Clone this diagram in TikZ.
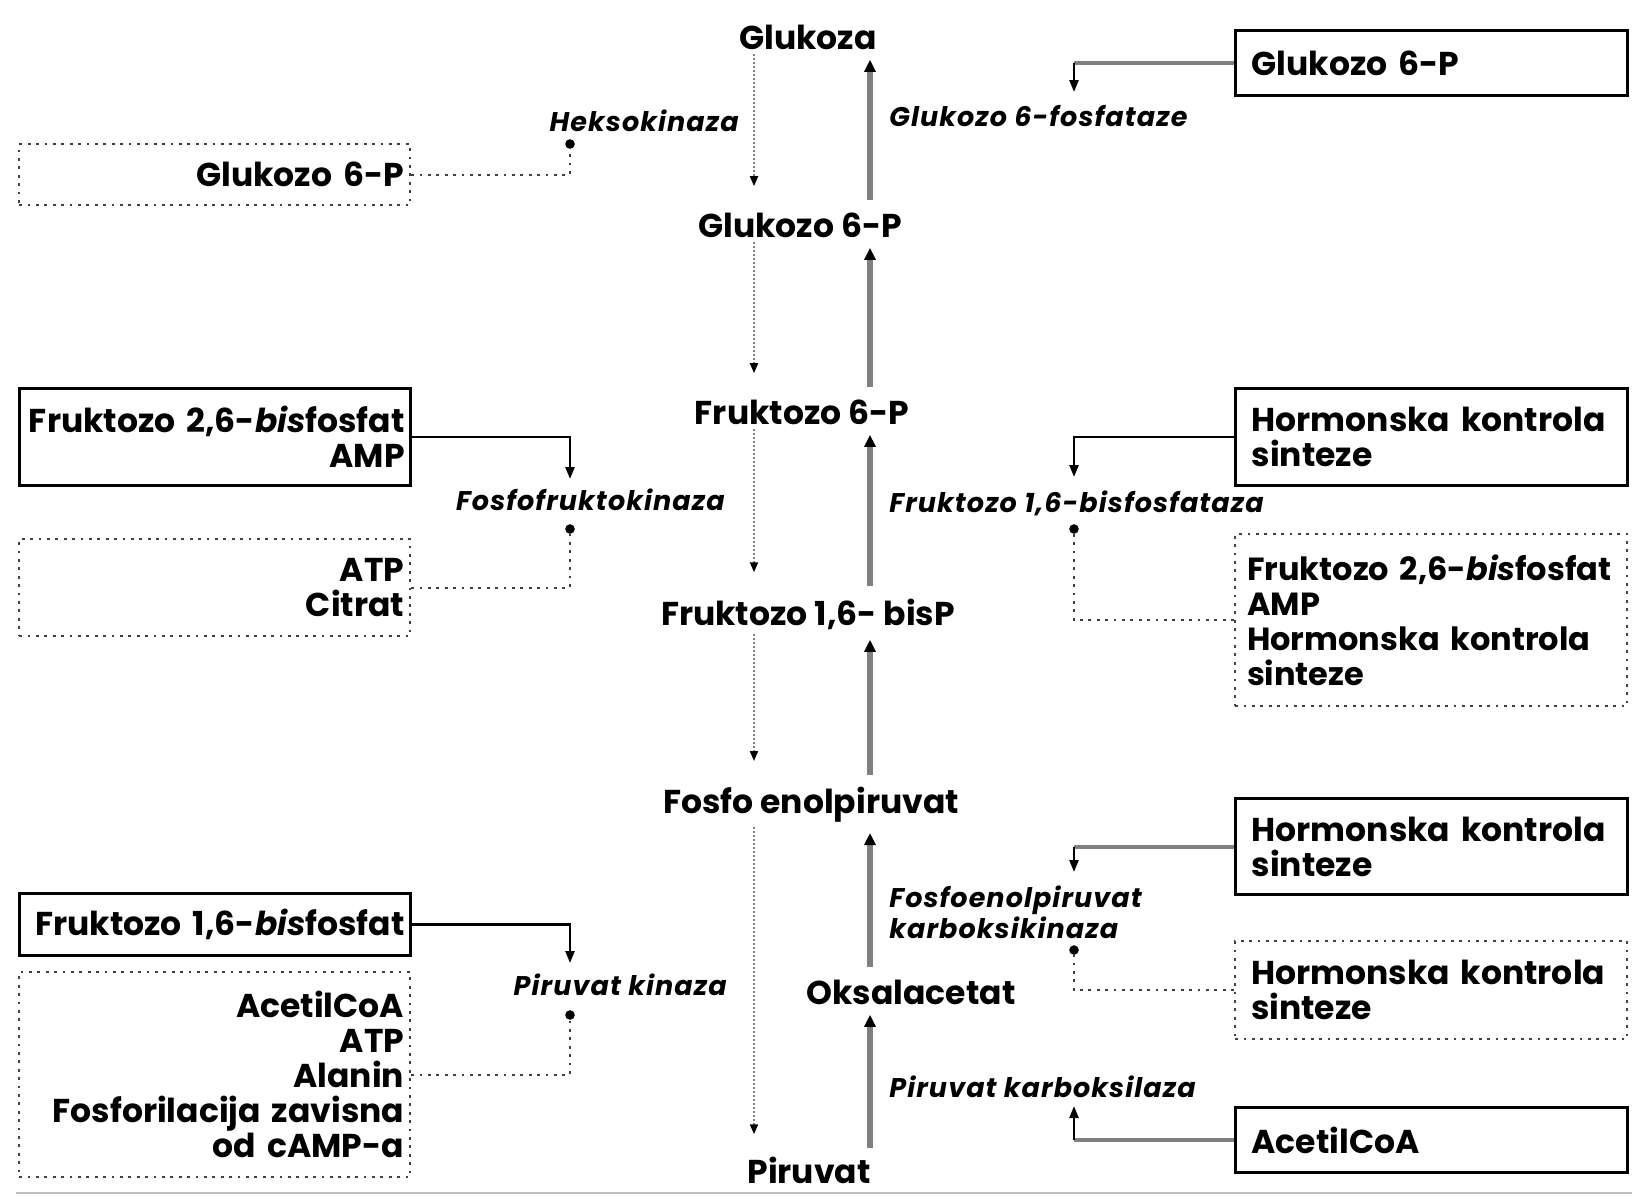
\documentclass[tikz,border=0pt]{standalone}
\usepackage{fontspec}
\setmainfont{Poppins}
\newfontfamily\enzfont{Poppins}[LetterSpace=4]
\usetikzlibrary{arrows.meta, positioning}

\begin{document}
\begin{tikzpicture}[
    x=0.5pt, y=-0.5pt,
    met/.style={inner sep=2pt, font=\fontsize{16.5}{17.5}\selectfont\bfseries},
    enz/.style={inner sep=1pt, align=left, font=\enzfont\fontsize{13.5}{15.5}\selectfont\bfseries\itshape},
    box/.style={anchor=north west, inner ysep=0pt, font=\fontsize{16.5}{17.5}\selectfont\bfseries},
    lbox/.style={box, inner xsep=3pt, text width=189.5pt, align=right},
    rbox/.style={box, inner xsep=8pt, text width=180pt, align=left},
    solid box/.style={draw, line width=1.6pt},
    dot box/.style={draw=black!75, line width=1.1pt, dash pattern=on 1.4pt off 2.8pt},
    dot/.style={circle, fill, inner sep=0pt, minimum size=4.8pt},
    fwd/.style={draw=black!50, line width=1pt, dash pattern=on 1pt off 1pt,
        -{Triangle[length=5pt, width=4pt, black]}, shorten >=11pt},
    rev/.style={draw=black!50, line width=2.6pt,
        -{Triangle[length=6pt, width=5.5pt, black]}, shorten <=4pt, shorten >=3pt},
    act/.style={line width=1.2pt, -{Triangle[length=6pt, width=4.5pt]}},
    gline/.style={draw=black!50, line width=2pt},
    inh/.style={draw=black!75, line width=1.1pt, dash pattern=on 1.4pt off 2.8pt},
]
    \useasboundingbox (0,0) rectangle (1632,1196);

    % Metabolites
    \node[met] (glu) at (808,37)   {Glukoza};
    \node[met] (g6p) at (800,225)  {Glukozo 6-P};
    \node[met] (f6p) at (802,412)  {Fruktozo 6-P};
    \node[met] (fbp) at (808,614)  {Fruktozo 1,6- bisP};
    \node[met] (pep) at (811,805)  {Fosfo enolpiruvat};
    \node[met] (oaa) at (911,992)  {Oksalacetat};
    \node[met, inner sep=0pt] (pir) at (809,1170) {Piruvat};

    % Glycolysis (dotted) and gluconeogenesis (solid)
    \coordinate (dl) at (754,0);
    \coordinate (sl) at (870,0);
    \foreach \a/\b in {glu/g6p, g6p/f6p, f6p/fbp, fbp/pep, pep/pir} {
        \draw[fwd] (\a.south -| dl) -- (\b.north -| dl);
    }
    \foreach \a/\b in {g6p/glu, f6p/g6p, fbp/f6p, pep/fbp, oaa/pep, pir/oaa} {
        \draw[rev] (\a.north -| sl) -- (\b.south -| sl);
    }

    % Enzymes
    \node[enz, anchor=east] (heks) at (741,121) {Heksokinaza};
    \node[enz, anchor=east] (pfk) at (727,500) {Fosfofruktokinaza};
    \node[enz, anchor=east] (pk) at (729,985) {Piruvat kinaza};
    \node[enz, anchor=west] (g6pase) at (887,116) {Glukozo 6-fosfataze};
    \node[enz, anchor=west] (fbpase) at (887,503) {Fruktozo 1,6-bisfosfataza};
    \node[enz, anchor=west] (pepck) at (887,912) {Fosfoenolpiruvat\\karboksikinaza};
    \node[enz, anchor=west] (pc) at (887,1087) {Piruvat karboksilaza};

    % Inhibition points
    \foreach \n/\x/\y in {d1/570/144, d2/570/529, d3/570/1015, d4/1074/529, d5/1074/950} {
        \node[dot] (\n) at (\x,\y) {};
    }

    % Activator arrow tips
    \coordinate (pfk-t) at (570,479);
    \coordinate (pk-t) at (570,963);
    \coordinate (g6pase-t) at (1074,92);
    \coordinate (fbpase-t) at (1074,477);
    \coordinate (pepck-t) at (1074,872);
    \coordinate (pc-t) at (1074,1106);

    % Left regulators
    \node[lbox, dot box, minimum height=30.5pt] (lb1) at (18,143) {Glukozo 6-P};
    \node[lbox, solid box, minimum height=48.5pt] (lb2) at (18,387)
        {Fruktozo 2,6-\textit{bis}fosfat\\AMP};
    \node[lbox, dot box, minimum height=48.5pt] (lb3) at (18,538) {ATP\\Citrat};
    \node[lbox, solid box, minimum height=31pt] (lb4) at (18,892)
        {Fruktozo 1,6-\textit{bis}fosfat};
    \node[lbox, dot box, minimum height=102.5pt] (lb5) at (18,971)
        {AcetilCoA\\ATP\\Alanin\\Fosforilacija zavisna\\od cAMP-a};

    % Right regulators
    \node[rbox, solid box, minimum height=32.5pt] (rb1) at (1234,29) {Glukozo 6-P};
    \node[rbox, solid box, minimum height=48.5pt] (rb2) at (1234,387)
        {Hormonska kontrola\\sinteze};
    \node[rbox, dot box, minimum height=86pt, inner xsep=6pt, text width=184pt,
        font=\fontsize{16}{17.5}\selectfont\bfseries] (rb3) at (1234,533)
        {\mbox{Fruktozo 2,6-\textit{bis}fosfat}\\AMP\\Hormonska kontrola\\sinteze};
    \node[rbox, solid box, minimum height=48pt] (rb4) at (1234,797)
        {Hormonska kontrola\\sinteze};
    \node[rbox, dot box, minimum height=49pt] (rb5) at (1234,940)
        {Hormonska kontrola\\sinteze};
    \node[rbox, solid box, minimum height=32.5pt] (rb6) at (1234,1106) {AcetilCoA};

    % Activation
    \draw[act] (lb2.east) -| (pfk-t);
    \draw[act] (lb4.east) -| (pk-t);
    \draw[act] (rb2.west) -| (fbpase-t);
    \draw[gline] (rb1.west) -- (rb1.west -| g6pase-t);
    \draw[act] (rb1.west -| g6pase-t) -- (g6pase-t);
    \draw[gline] (rb4.west) -- (rb4.west -| pepck-t);
    \draw[act] (rb4.west -| pepck-t) -- (pepck-t);
    \draw[gline] (rb6.west) -- (rb6.west -| pc-t);
    \draw[act] (rb6.west -| pc-t) -- (pc-t);

    % Inhibition
    \draw[inh] (lb1.east) -| (d1);
    \draw[inh] (lb3.east) -| (d2);
    \draw[inh] (lb5.east) -| (d3);
    \draw[inh] (rb3.west) -| (d4);
    \draw[inh] (rb5.west) -| (d5);

    \draw[black!25, line width=1.2pt] (16,1193) -- (1632,1193);
\end{tikzpicture}
\end{document}
